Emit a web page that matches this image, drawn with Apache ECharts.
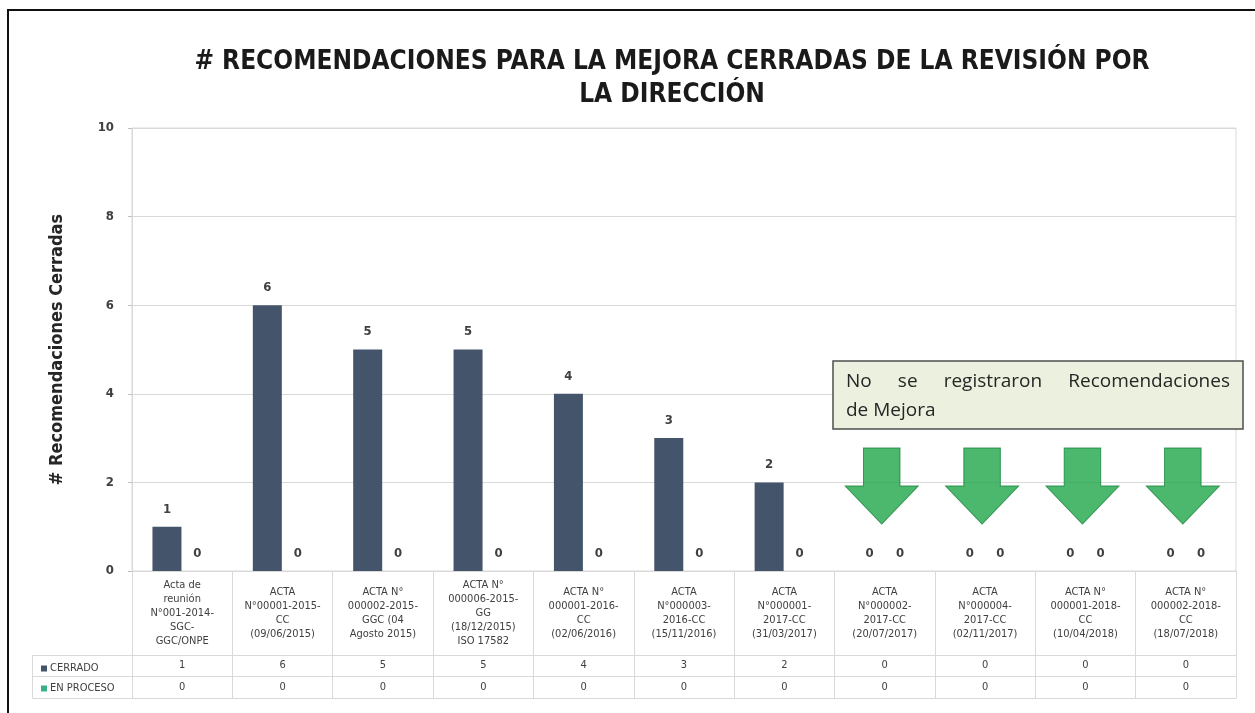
<!DOCTYPE html>
<html>
<head>
<meta charset="utf-8">
<script src="https://cdn.jsdelivr.net/npm/echarts@6/dist/echarts.min.js"></script>
<style>
html,body{margin:0;padding:0;background:#fff;}
#chart{width:1255px;height:713px;}
</style>
</head>
<body>
<div id="chart"></div>
<script>
const titleLines = ['# RECOMENDACIONES PARA LA MEJORA CERRADAS DE LA REVISIÓN POR', 'LA DIRECCIÓN'];
const yAxisName = '# Recomendaciones Cerradas';
const categories = [
  'Acta de\nreunión\nN°001-2014-\nSGC-\nGGC/ONPE',
  'ACTA\nN°00001-2015-\nCC\n(09/06/2015)',
  'ACTA N°\n000002-2015-\nGGC (04\nAgosto 2015)',
  'ACTA N°\n000006-2015-\nGG\n(18/12/2015)\nISO 17582',
  'ACTA N°\n000001-2016-\nCC\n(02/06/2016)',
  'ACTA\nN°000003-\n2016-CC\n(15/11/2016)',
  'ACTA\nN°000001-\n2017-CC\n(31/03/2017)',
  'ACTA\nN°000002-\n2017-CC\n(20/07/2017)',
  'ACTA\nN°000004-\n2017-CC\n(02/11/2017)',
  'ACTA N°\n000001-2018-\nCC\n(10/04/2018)',
  'ACTA N°\n000002-2018-\nCC\n(18/07/2018)'
];
const seriesNames = ['CERRADO', 'EN PROCESO'];
const cerrado = [1, 6, 5, 5, 4, 3, 2, 0, 0, 0, 0];
const enProceso = [0, 0, 0, 0, 0, 0, 0, 0, 0, 0, 0];
const yMin = 0, yMax = 10, yInterval = 2;
const noteWords = [['No', 'se', 'registraron', 'Recomendaciones'], ['de', 'Mejora']];

const NARROW = '"Liberation Sans Narrow", "DejaVu Sans Condensed", "Noto Sans", sans-serif';
const WIDE = '"Open Sans", "Noto Sans", sans-serif';
const TXT = '#404040';
const GRIDC = '#d9d9d9';
const BAR1 = '#44546A';
const BAR2 = '#3BAE8C';

// zero markers (arrows) for categories with no recommendations at all
const arrowData = categories.map((c, i) => (cerrado[i] === 0 && enProceso[i] === 0) ? 0 : '-');

const chart = echarts.init(document.getElementById('chart'), null, {renderer: 'canvas'});

// justified note text
const measure = document.createElement('canvas').getContext('2d');
const noteFont = '19px ' + WIDE;
measure.font = noteFont;
const noteElems = [];
const noteX0 = 846, noteW = 384, noteY = [382, 411];
noteWords.forEach((words, li) => {
  const widths = words.map(w => measure.measureText(w).width);
  let gap = measure.measureText(' ').width;
  if (li === 0) {
    const tot = widths.reduce((a, b) => a + b, 0);
    gap = (noteW - tot) / (words.length - 1);
  }
  let x = noteX0;
  words.forEach((w, k) => {
    noteElems.push({type: 'text', x: x, y: noteY[li], z: 101, silent: true,
      style: {text: w, font: noteFont, fill: '#262626', textVerticalAlign: 'middle'}});
    x += widths[k] + gap;
  });
});

const tableAxis = (offset, tickLen, labels, show) => ({
  type: 'category', gridIndex: 0, position: 'bottom', offset: offset,
  data: categories,
  axisLine: {show: true, lineStyle: {color: GRIDC, width: 1}},
  axisTick: {show: tickLen > 0, length: tickLen, alignWithLabel: false, lineStyle: {color: GRIDC}},
  axisLabel: {show: show, interval: 0, margin: tickLen / 2, verticalAlign: 'middle',
    fontFamily: NARROW, fontSize: 11, color: TXT,
    formatter: (v, i) => labels ? String(labels[i]) : ''},
  splitLine: {show: false}
});

const valueLabel = {show: true, position: 'top', distance: 11, fontFamily: NARROW, fontSize: 13,
  fontWeight: 'bold', color: TXT};

const option = {
  backgroundColor: '#ffffff',
  animation: false,
  grid: {left: 132, right: 19, top: 128, bottom: 142, show: true, borderColor: GRIDC, borderWidth: 1},
  legend: {
    data: seriesNames, orient: 'vertical', left: 36, top: 658, itemGap: 9,
    itemWidth: 6, itemHeight: 6, icon: 'rect',
    textStyle: {fontFamily: NARROW, fontSize: 11, color: TXT, padding: [0, 0, 0, -2]},
    selectedMode: false
  },
  xAxis: [
    {
      type: 'category', data: categories, position: 'bottom',
      axisLine: {show: true, lineStyle: {color: GRIDC}},
      axisTick: {show: true, length: 84, lineStyle: {color: GRIDC}},
      axisLabel: {interval: 0, margin: 42, verticalAlign: 'middle', fontFamily: NARROW,
        fontSize: 11, lineHeight: 14, color: TXT, align: 'center'},
      splitLine: {show: false}
    },
    tableAxis(84, 21, cerrado, true),
    tableAxis(105, 22, enProceso, true),
    tableAxis(127, 0, null, false)
  ],
  yAxis: {
    type: 'value', min: yMin, max: yMax, interval: yInterval,
    name: yAxisName, nameLocation: 'middle', nameGap: 66,
    nameTextStyle: {fontFamily: NARROW, fontSize: 18, fontWeight: 'bold', color: '#262626'},
    axisLine: {show: true, lineStyle: {color: GRIDC}},
    axisTick: {show: true, length: 4, lineStyle: {color: '#bfbfbf'}},
    axisLabel: {margin: 18, fontFamily: NARROW, fontSize: 13, fontWeight: 'bold', color: TXT},
    splitLine: {show: true, lineStyle: {color: GRIDC}}
  },
  series: [
    {
      name: seriesNames[0], type: 'bar', data: cerrado, barWidth: 29, barGap: '5%',
      itemStyle: {color: BAR1}, label: valueLabel
    },
    {
      name: seriesNames[1], type: 'bar', data: enProceso, barWidth: 29,
      itemStyle: {color: BAR2}, label: valueLabel
    },
    {
      name: 'arrows', type: 'scatter', data: arrowData, silent: true, z: 3,
      symbol: 'path://M25,0 L75,0 L75,50 L100,50 L50,100 L0,50 L25,50 Z',
      symbolSize: [73, 76], symbolKeepAspect: false, symbolOffset: [-3, -85],
      itemStyle: {color: '#1FA64A', borderColor: '#17833A', borderWidth: 1},
      label: {show: false}
    }
  ],
  graphic: [
    {type: 'polyline', shape: {points: [[8, 713], [8, 10], [1255, 10]]}, silent: true,
      style: {stroke: '#111', lineWidth: 2, fill: null}},
    {type: 'polyline', shape: {points: [[132, 655.5], [32.5, 655.5], [32.5, 698.5], [132, 698.5]]}, silent: true,
      style: {stroke: GRIDC, lineWidth: 1, fill: null}},
    {type: 'line', shape: {x1: 32.5, y1: 676.5, x2: 132, y2: 676.5}, silent: true,
      style: {stroke: GRIDC, lineWidth: 1}},
    {type: 'text', x: 672, y: 62, z: 100, silent: true,
      style: {text: titleLines[0], font: 'bold 26px ' + NARROW, fill: '#1a1a1a',
        textAlign: 'center', textVerticalAlign: 'middle'}},
    {type: 'text', x: 672, y: 95, z: 100, silent: true,
      style: {text: titleLines[1], font: 'bold 26px ' + NARROW, fill: '#1a1a1a',
        textAlign: 'center', textVerticalAlign: 'middle'}},
    {type: 'rect', shape: {x: 833, y: 361, width: 410, height: 68}, z: 100, silent: true,
      style: {fill: '#EBF1DE', stroke: '#4d4d4d', lineWidth: 1.5}}
  ].concat(noteElems)
};
chart.setOption(option);
</script>
</body>
</html>
